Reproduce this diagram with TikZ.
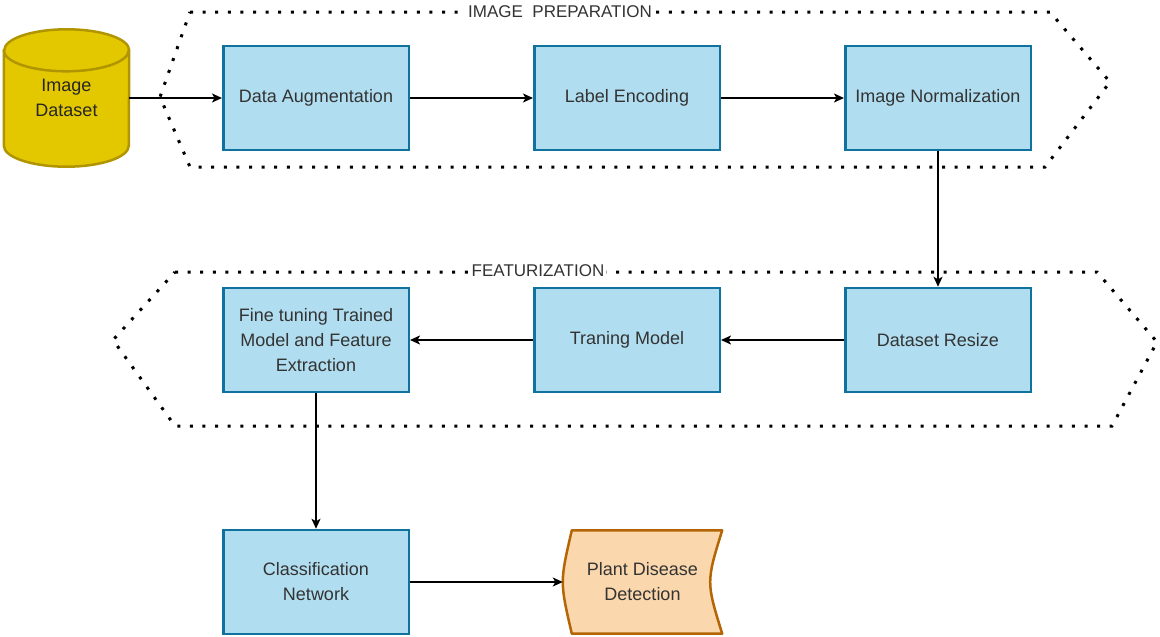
\documentclass[tikz,border=0pt]{standalone}
\usepackage{fontspec}
\setmainfont{Liberation Sans}
\usetikzlibrary{positioning, arrows.meta, backgrounds}
\definecolor{boxfill}{HTML}{B1DDF0}
\definecolor{boxdraw}{HTML}{10739E}
\definecolor{dbfill}{HTML}{E3C800}
\definecolor{dbdraw}{HTML}{B09500}
\definecolor{outfill}{HTML}{FAD7AC}
\definecolor{outdraw}{HTML}{B46504}
\tikzset{
    >={Stealth[length=10pt, width=9pt, inset=2.5pt]}, % filled arrow heads like the original
    block/.style={draw=boxdraw, fill=boxfill, line width=2.5pt, minimum width=185.5pt, minimum height=104pt, align=center, text=black!80, font=\fontsize{18}{25}\selectfont}, % the blue process boxes
    flow/.style={->, line width=1.5pt}, % connectors between boxes
    stage/.style={line width=3pt, dash pattern=on 3pt off 9.6pt}, % dotted hexagon round each stage
    stagelabel/.style={fill=white, inner sep=2pt, text=black!80, font=\fontsize{17}{20}\selectfont},
}
\begin{document}
\begin{tikzpicture}[
                        x=1pt, y=1pt,
                        node distance=311pt,
                    ]
                    \useasboundingbox (0,0) rectangle (1160,-637);

                    % the two dotted stages
                    \draw[stage] (190,-12) -- (1050,-12) -- (1110,-82) -- (1045,-167) -- (190,-167) -- (160,-97) -- cycle;
                    \draw[stage] (175,-272) -- (1097,-272) -- (1157,-342) -- (1112,-426) -- (175,-426) -- (113,-340) -- cycle;
                    \node[stagelabel] (prep) at (560,-12) {IMAGE\ \ PREPARATION};
                    \node[stagelabel] (feat) at (538,-271) {FEATURIZATION};

                    % first row
                    \node[block] (aug) at (316,-98) {Data Augmentation};
                    \node[block, right of=aug] (enc) {Label Encoding};
                    \node[block, right of=enc] (norm) {Image Normalization};
                    % second row
                    \node[block, below of=norm, node distance=242pt] (resize) {Dataset Resize};
                    \node[block, left of=resize] (train) {Traning Model};
                    \node[block, left of=train] (tune) {Fine tuning Trained\\Model and Feature\\Extraction};
                    % last row
                    \node[block, below of=tune, node distance=242pt] (cls) {Classification\\Network};

                    % input and output
                    \node[minimum width=125pt, minimum height=137pt, align=center, text=black!85, font=\fontsize{18}{25}\selectfont] (ds) at (66.5,-98) {Image\\Dataset};
                    \node[minimum width=159pt, minimum height=103pt, align=center, text=black!80, font=\fontsize{18}{25}\selectfont] (pdd) at (642.5,-582) {Plant Disease\\Detection};
                    \begin{scope}[on background layer]
                        \draw[draw=dbdraw, fill=dbfill, line width=2.5pt] ([yshift=-21pt]ds.north west) -- ([yshift=21pt]ds.south west) arc[start angle=180, end angle=360, x radius=62.5pt, y radius=21pt] -- ([yshift=-21pt]ds.north east) arc[start angle=0, end angle=180, x radius=62.5pt, y radius=21pt] -- cycle;
                        \draw[draw=dbdraw, line width=2.5pt] ([yshift=-21pt]ds.north west) arc[start angle=180, end angle=360, x radius=62.5pt, y radius=21pt];
                        \draw[draw=outdraw, fill=outfill, line width=2.5pt, line join=round] (pdd.north) -- (pdd.north east) .. controls ([xshift=-16pt]pdd.east) .. (pdd.south east) -- ([xshift=9pt]pdd.south west) .. controls ([xshift=-3pt]pdd.west) .. ([xshift=9pt]pdd.north west) -- cycle;
                    \end{scope}

                    \draw[flow] (ds.east) -- (aug);
                    \draw[flow] (aug) -- (enc);
                    \draw[flow] (enc) -- (norm);
                    \draw[flow] (norm) -- (resize);
                    \draw[flow] (resize) -- (train);
                    \draw[flow] (train) -- (tune);
                    \draw[flow] (tune) -- (cls);
                    \draw[flow] (cls) -- (pdd.west);
                \end{tikzpicture}
\end{document}
